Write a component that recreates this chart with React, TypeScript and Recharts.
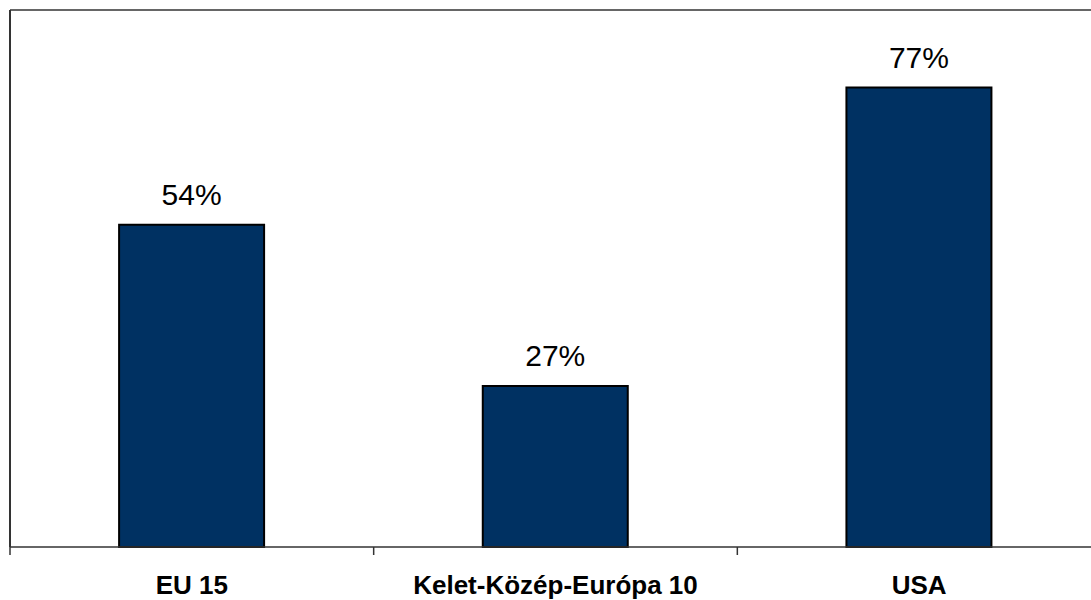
import { BarChart, Bar, XAxis, YAxis, ReferenceLine, LabelList } from 'recharts';

const regions = ['EU 15', 'Kelet-Közép-Európa 10', 'USA'];
const shares = [54, 27, 77];

const chartData = regions.map((name, i) => ({ name, value: shares[i] }));

const font = 'Arial, "Liberation Sans", sans-serif';
const TICK_SIZE = 6;
const TICK_MARGIN = 23;
const MARK_LEN = 8;

// category labels plus tick marks on the band boundaries (Excel style)
function CategoryTick(props: any) {
  const { x, y, payload, index, visibleTicksCount } = props;
  const axisY = y - TICK_SIZE - TICK_MARGIN;
  const half = payload.offset ?? 0;
  return (
    <g>
      <line x1={x - half} x2={x - half} y1={axisY} y2={axisY + MARK_LEN} stroke="#333" strokeWidth={1.5} />
      {index === visibleTicksCount - 1 && (
        <line x1={x + half} x2={x + half} y1={axisY} y2={axisY + MARK_LEN} stroke="#333" strokeWidth={1.5} />
      )}
      <text
        x={x}
        y={y}
        dy="0.71em"
        textAnchor="middle"
        fontSize={26}
        fontWeight="bold"
        fill="#000"
        fontFamily={font}
      >
        {payload.value}
      </text>
    </g>
  );
}

export default function App() {
  return (
    <div
      style={{
        position: 'absolute',
        left: 0,
        top: 0,
        width: 1091,
        height: 600,
        overflow: 'hidden',
        background: '#fff',
      }}
    >
      <BarChart
        width={1101}
        height={600}
        data={chartData}
        margin={{ top: 10, right: 0, left: 9, bottom: 0 }}
        barCategoryGap="30%"
      >
        <XAxis
          dataKey="name"
          height={53}
          axisLine={{ stroke: '#333', strokeWidth: 1.5 }}
          tickLine={false}
          tickSize={TICK_SIZE}
          tickMargin={TICK_MARGIN}
          interval={0}
          tick={<CategoryTick />}
        />
        <YAxis
          domain={[0, 90]}
          width={1}
          tick={false}
          tickLine={false}
          axisLine={{ stroke: '#333', strokeWidth: 2 }}
        />
        <ReferenceLine y={90} stroke="#333" strokeWidth={1.5} />
        <Bar
          dataKey="value"
          fill="#003162"
          stroke="#000"
          strokeWidth={2}
          isAnimationActive={false}
        >
          <LabelList
            dataKey="value"
            position="top"
            offset={20}
            formatter={(v: number) => `${v}%`}
            style={{ fontSize: 30, fill: '#000', fontFamily: font }}
          />
        </Bar>
      </BarChart>
    </div>
  );
}
